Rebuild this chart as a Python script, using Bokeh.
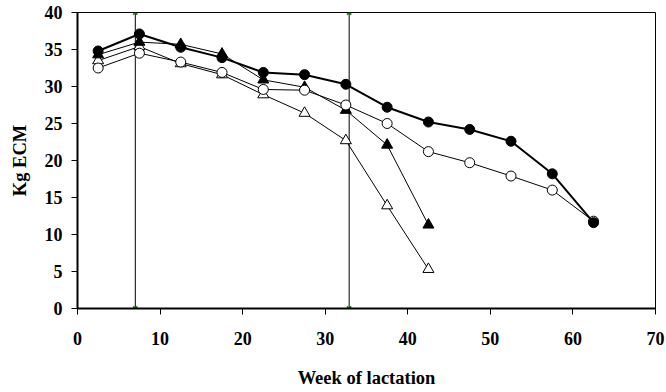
from bokeh.plotting import figure
from bokeh.models import Range1d, FixedTicker
from bokeh.embed import file_html
from bokeh.resources import INLINE

weeks = [2.5, 7.5, 12.5, 17.5, 22.5, 27.5, 32.5, 37.5, 42.5, 47.5, 52.5, 57.5, 62.5]
filled_circle = [34.8, 37.1, 35.3, 33.9, 31.9, 31.6, 30.3, 27.2, 25.2, 24.2, 22.6, 18.2, 11.6]
open_circle = [32.5, 34.5, 33.3, 31.9, 29.6, 29.5, 27.5, 25.0, 21.2, 19.7, 17.9, 16.0, 11.8]
weeks_short = [2.5, 7.5, 12.5, 17.5, 22.5, 27.5, 32.5, 37.5, 42.5]
filled_tri = [34.3, 36.0, 35.7, 34.4, 30.9, 29.9, 26.8, 22.1, 11.3]
open_tri = [33.5, 35.4, 33.1, 31.6, 28.9, 26.4, 22.7, 13.9, 5.3]
vlines_x = [7.0, 32.9]
vlines_y0 = [0, 0]
vlines_y1 = [40, 40]
x_ticks = [0, 10, 20, 30, 40, 50, 60, 70]
y_ticks = [0, 5, 10, 15, 20, 25, 30, 35, 40]

p = figure(width=666, height=392, output_backend="svg", toolbar_location=None,
           x_range=Range1d(0, 70), y_range=Range1d(0, 40),
           min_border_left=77, min_border_right=11, min_border_top=12, min_border_bottom=84)
p.xgrid.visible = False
p.ygrid.visible = False
p.outline_line_color = "black"
p.outline_line_width = 1
p.background_fill_color = "white"
p.border_fill_color = "white"

font = "Liberation Serif"
for ax in (p.xaxis[0], p.yaxis[0]):
    ax.axis_line_color = "black"
    ax.axis_line_width = 2
    ax.major_tick_line_color = "black"
    ax.major_tick_line_width = 1
    ax.minor_tick_line_color = None
    ax.major_tick_in = 0
    ax.major_tick_out = 6
    ax.major_label_text_font = font
    ax.major_label_text_font_style = "bold"
    ax.major_label_text_font_size = "18px"
    ax.major_label_text_color = "black"
    ax.axis_label_text_font = font
    ax.axis_label_text_font_style = "bold"
    ax.axis_label_text_font_size = "18.5px"
    ax.axis_label_text_color = "black"

p.xaxis.ticker = FixedTicker(ticks=x_ticks)
p.yaxis.ticker = FixedTicker(ticks=y_ticks)
p.xaxis.axis_label = "Week of lactation"
p.yaxis.axis_label = "Kg ECM"
p.xaxis.major_label_standoff = 17
p.xaxis.axis_label_standoff = 20
p.yaxis.major_label_standoff = 9
p.yaxis.axis_label_standoff = 12

# vertical reference lines
p.segment(x0=vlines_x, y0=vlines_y0, x1=vlines_x, y1=vlines_y1, line_color="black", line_width=1)
p.scatter(x=vlines_x + vlines_x, y=vlines_y0 + vlines_y1, marker="x", size=6,
          line_color="#1a6e1a", line_width=1.5)

# open triangles
p.line(weeks_short, open_tri, line_color="black", line_width=1)
p.scatter(weeks_short, open_tri, marker="triangle", size=11, fill_color="white", line_color="black", line_width=1)
# filled triangles
p.line(weeks_short, filled_tri, line_color="black", line_width=1)
p.scatter(weeks_short, filled_tri, marker="triangle", size=11, fill_color="black", line_color="black", line_width=1)
# open circles
p.line(weeks, open_circle, line_color="black", line_width=1)
p.scatter(weeks, open_circle, marker="circle", size=10, fill_color="white", line_color="black", line_width=1)
# filled circles
p.line(weeks, filled_circle, line_color="black", line_width=2)
p.scatter(weeks, filled_circle, marker="circle", size=10, fill_color="black", line_color="black", line_width=1)

open("out.html", "w").write(file_html(p, INLINE))
